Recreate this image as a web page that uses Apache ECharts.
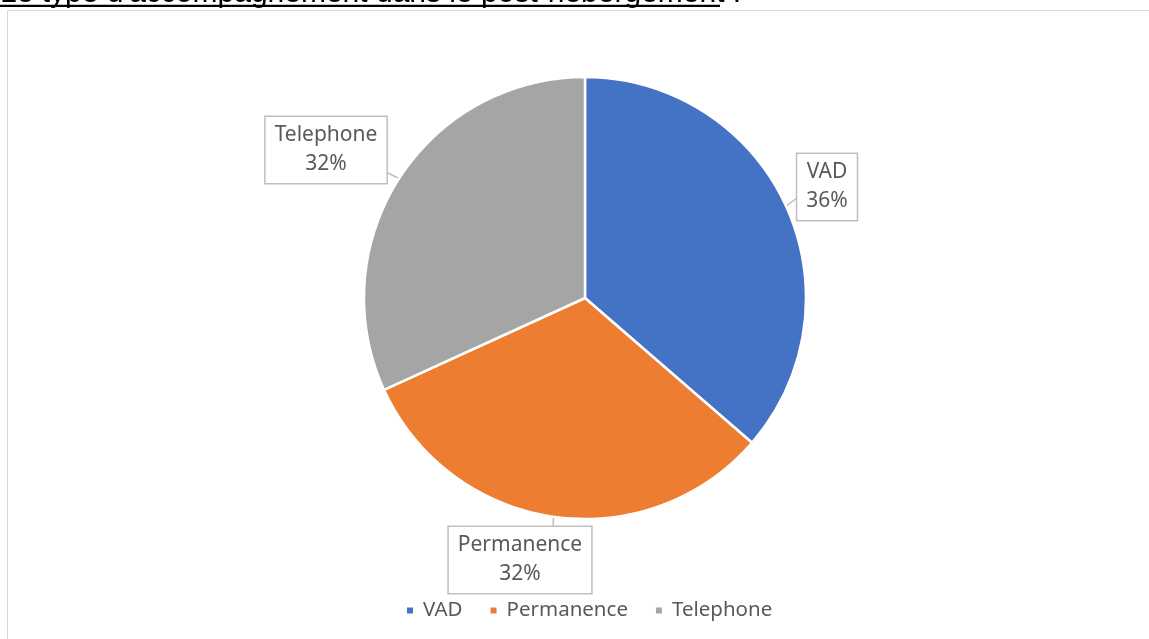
<!DOCTYPE html>
<html>
<head>
<meta charset="utf-8">
<script src="https://cdn.jsdelivr.net/npm/echarts@6/dist/echarts.min.js"></script>
<style>
html,body{margin:0;padding:0;background:#fff;}
#chart{width:1149px;height:639px;}
</style>
</head>
<body>
<div id="chart"></div>
<script>
const titleText = "Le type d'accompagnement dans le post-hébergement :";
const categories = ['VAD', 'Permanence', 'Telephone'];
const values = [8, 7, 7];
const colors = ['#4472C4', '#ED7D31', '#A5A5A5'];

// label box anchor positions (layout only)
const labelPos = [
  {x: 827, y: 187, edge: [797, 198]},
  {x: 520, y: 560, edge: [553, 527]},
  {x: 326, y: 150, edge: [386, 172]}
];

const chart = echarts.init(document.getElementById('chart'));
const FONT = '"Noto Sans", sans-serif';

chart.setOption({
  animation: false,
  color: colors,
  graphic: [
    {
      type: 'rect',
      shape: {x: 7.5, y: 10.5, width: 1200, height: 700},
      style: {fill: '#fff', stroke: '#d9d9d9', lineWidth: 1},
      z: -10
    },
    {
      type: 'text',
      x: 0, y: -6,
      style: {
        text: titleText,
        font: '30px "Liberation Sans", Arial, sans-serif',
        fill: '#000',
        textVerticalAlign: 'middle'
      }
    },
    {
      type: 'line',
      shape: {x1: 0, y1: 5.8, x2: 720, y2: 5.8},
      style: {stroke: '#000', lineWidth: 2.3}
    }
  ],
  legend: {
    data: categories,
    left: 400,
    top: 595,
    icon: 'rect',
    itemWidth: 8,
    itemHeight: 8,
    itemGap: 26,
    textStyle: {fontFamily: FONT, fontSize: 20.5, color: '#595959', padding: [0, 0, 0, 4]}
  },
  series: [{
    type: 'pie',
    center: [585, 298],
    radius: 221,
    startAngle: 90,
    clockwise: true,
    itemStyle: {borderColor: '#fff', borderWidth: 2.5},
    data: categories.map((c, i) => ({name: c, value: values[i]})),
    label: {
      show: true,
      position: 'outside',
      formatter: p => p.name + '\n' + Math.round(p.percent) + '%',
      fontFamily: FONT,
      fontSize: 21,
      lineHeight: 29,
      color: '#595959',
      align: 'center',
      backgroundColor: '#fff',
      borderColor: '#bfbfbf',
      borderWidth: 1.5,
      padding: [8, 9, 0, 9]
    },
    labelLine: {show: true, lineStyle: {color: '#bfbfbf', width: 1.5}, smooth: false},
    labelLayout: function (params) {
      const lp = labelPos[params.dataIndex];
      const tip = params.labelLinePoints ? params.labelLinePoints[0] : lp.edge;
      return {
        x: lp.x, y: lp.y,
        align: 'center',
        verticalAlign: 'middle',
        labelLinePoints: [tip, tip, lp.edge]
      };
    }
  }]
});
</script>
</body>
</html>
